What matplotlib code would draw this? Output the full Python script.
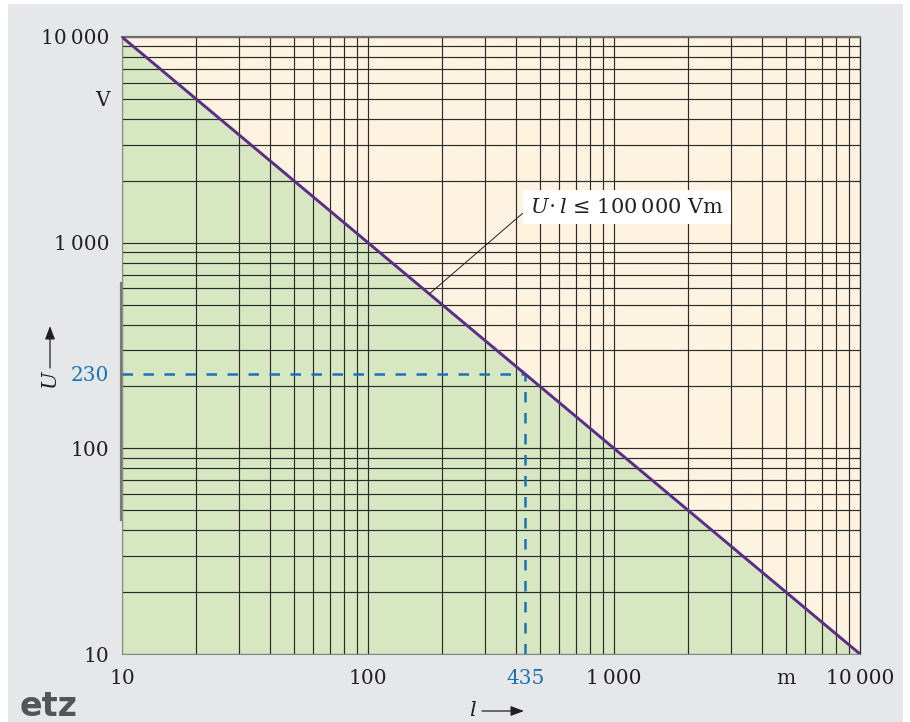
import numpy as np
import matplotlib.pyplot as plt
from matplotlib.patches import Rectangle
from matplotlib.ticker import FixedLocator, NullLocator

# Limit line U * l = 100 000 Vm
l_line = [10, 10000]        # m
U_line = [10000, 10]        # V

# Worked example
U_example = 230             # V
l_example = 435             # m

# Tick labels
y_ticks = [10, 100, 1000, 5000, 10000]
y_labels = ['10', '100', '1\u2009000', 'V', '10\u2009000']
x_ticks = [10, 100, 1000, 5000, 10000]
x_labels = ['10', '100', '1\u2009000', 'm', '10\u2009000']

GREEN = '#d6e7c2'
BEIGE = '#fef2e1'
BG = '#e6e7e9'
PURPLE = '#5c2d86'
BLUE = '#1a73b9'
INK = '#231f20'
GRID = '#2b2b2b'

plt.rcParams['font.family'] = ['DejaVu Serif']
plt.rcParams['mathtext.fontset'] = 'dejavuserif'

fig = plt.figure(figsize=(9.10, 7.22), dpi=100)
fig.patches.append(Rectangle((8 / 910, 0), 895 / 910, 718 / 722,
                             transform=fig.transFigure, facecolor=BG,
                             edgecolor='none', zorder=-10))

ax = fig.add_axes([122 / 910, 68 / 722, 738 / 910, 617 / 722])
ax.set_zorder(1)
ax.set_xscale('log')
ax.set_yscale('log')
ax.set_xlim(10, 10000)
ax.set_ylim(10, 10000)
ax.set_facecolor(BEIGE)

# green "allowed" region under the line
ax.fill_between(l_line, U_line, 10, color=GREEN, lw=0, zorder=1)

# log grid: 1..9 x 10^k
grid_vals = [m * 10 ** k for k in range(1, 4) for m in range(1, 10)] + [10000]
for v in grid_vals:
    ax.axvline(v, color=GRID, lw=0.85, zorder=2)
    ax.axhline(v, color=GRID, lw=0.85, zorder=2)

ax.plot(l_line, U_line, color=PURPLE, lw=2.1, zorder=4)

# dashed guide for the example
ax.plot([10, l_example], [U_example, U_example], color=BLUE, lw=1.8,
        dashes=(4.2, 4.2), zorder=3)
ax.plot([l_example, l_example], [10, U_example], color=BLUE, lw=1.8,
        dashes=(4.2, 4.2), zorder=3)

# ticks
ax.xaxis.set_major_locator(FixedLocator(x_ticks + [l_example]))
ax.xaxis.set_minor_locator(NullLocator())
ax.set_xticklabels(x_labels + [str(l_example)])
ax.yaxis.set_major_locator(FixedLocator(y_ticks + [U_example]))
ax.yaxis.set_minor_locator(NullLocator())
ax.set_yticklabels(y_labels + [str(U_example)])
ax.tick_params(length=0, labelsize=14.5, colors=INK)
ax.tick_params(axis='y', pad=9)
ax.tick_params(axis='x', pad=11)
ax.get_xticklabels()[-1].set_color(BLUE)
ax.get_yticklabels()[-1].set_color(BLUE)

for side in ['left', 'bottom']:
    ax.spines[side].set_color('#8a8a8a')
    ax.spines[side].set_linewidth(0.8)
ax.spines['top'].set_color('#6e6e6e')
ax.spines['top'].set_linewidth(1.6)
ax.spines['right'].set_color(GRID)
ax.spines['right'].set_linewidth(0.9)
ax.plot([-0.002, -0.002], [0.217, 0.601], transform=ax.transAxes,
        color='#7a7a7a', lw=1.6, clip_on=False, zorder=5)

# label for the limit line
ax.annotate('$U\\!\\cdot l$ \u2264 100\u2009000 Vm', xy=(178, 565),
            xytext=(455, 1490), fontsize=15, color=INK, va='center', ha='left',
            bbox=dict(boxstyle='square,pad=0.35', fc='white', ec='none'),
            arrowprops=dict(arrowstyle='-', color=INK, lw=0.7,
                            relpos=(0, 0.5), shrinkA=0, shrinkB=0), zorder=6)

# axis labels with arrows
fig.text(472 / 910, 1 - 710 / 722, 'l', fontsize=15, style='italic',
         color=INK, ha='center', va='center')
ax.annotate('', xy=(524 / 910, 1 - 711 / 722), xytext=(482 / 910, 1 - 711 / 722),
            xycoords='figure fraction',
            arrowprops=dict(arrowstyle='-|>,head_length=0.8,head_width=0.3',
                            color=INK, lw=0.9, shrinkA=0, shrinkB=0))
fig.text(50 / 910, 1 - 379 / 722, 'U', fontsize=15, style='italic',
         color=INK, ha='center', va='center', rotation=90)
ax.annotate('', xy=(50 / 910, 1 - 326 / 722), xytext=(50 / 910, 1 - 368 / 722),
            xycoords='figure fraction',
            arrowprops=dict(arrowstyle='-|>,head_length=0.8,head_width=0.3',
                            color=INK, lw=0.9, shrinkA=0, shrinkB=0))

# logo
fig.text(20 / 910, 1 - 706 / 722, 'etz', fontsize=24, fontweight='bold',
         family='DejaVu Sans', color='#555555', ha='left', va='center')

fig.savefig('out.png', dpi=100)
